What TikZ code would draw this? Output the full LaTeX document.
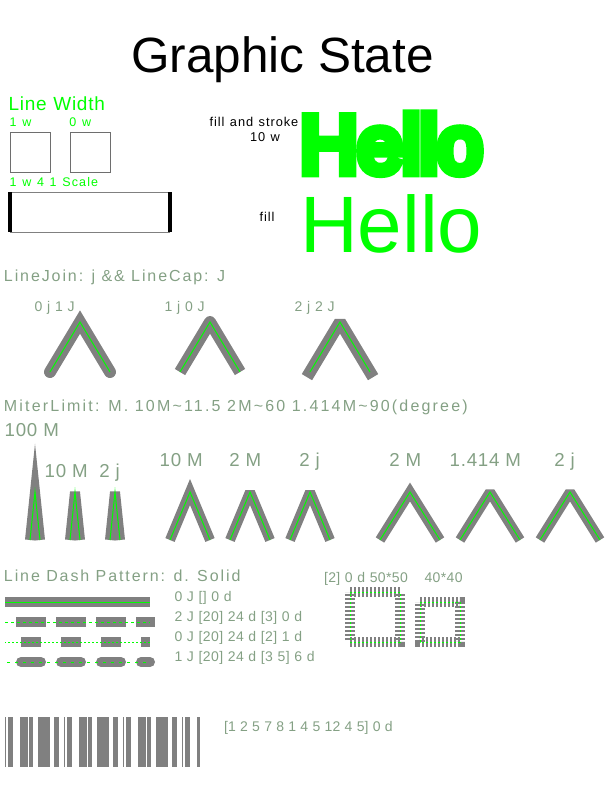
\documentclass[tikz,border=0pt]{standalone}
\usepackage{fontspec}
\setmainfont{Liberation Sans}
\newfontfamily\hellobold[FakeBold=12.5]{Liberation Sans}
\definecolor{lbl}{RGB}{132,160,132}
\definecolor{gr}{RGB}{128,128,128}
\definecolor{sq}{RGB}{110,110,110}
\definecolor{gn}{RGB}{0,255,0}
\newcommand\fs[3]{\fontsize{#1}{#1}\selectfont\addfontfeatures{LetterSpace=#2}\spaceskip=\dimexpr\fontdimen2\font+#3pt\relax}
\tikzset{
  lb/.style={inner sep=0pt, outer sep=0pt, anchor=base west},
  big/.style={lb, text=lbl, font=\fs{16}{11.9}{0}},
  sm/.style={lb, text=lbl, font=\fs{14}{3.4}{0.47}},
  ml/.style={lb, text=lbl, font=\fs{18.7}{4}{0}},
  dl/.style={lb, text=lbl, font=\fs{14}{2.8}{0.39}},
  gl/.style={lb, text=gn, font=\fs{12.5}{9}{1.13}},
  bl/.style={lb, text=black, font=\fs{12.8}{7.5}{0.96}},
  wide/.style={gr, line width=10pt},
  wider/.style={gr, line width=12pt},
  hair/.style={gn, line width=1pt},
}
\begin{document}
\begin{tikzpicture}[x=1pt, y=-1pt]
\useasboundingbox (0,0) rectangle (612,792);
% title
\node[inner sep=0pt, anchor=base, font=\fontsize{49.5}{49.5}\selectfont] (title) at (282.5,72.5) {Graphic State};
% line width
\node[lb, text=gn, font=\fs{19}{3.8}{0.72}] (lw) at (8.6,110.7) {Line Width};
\node[gl] (w1) at (9.6,126.7) {1 w};
\node[gl] (w0) at (69.4,126.7) {0 w};
\draw[sq, line width=1pt] (10,132) rectangle (50,172);
\draw[sq, line width=0.5pt] (70,132) rectangle (110,172);
\node[gl] (w41) at (9.6,186.7) {1 w 4 1 Scale};
\draw[gr, line width=1pt] (10,192) -- (170,192) (10,232) -- (170,232);
\draw[black, line width=4pt] (10,192) -- (10,232) (170,192) -- (170,232);
% hello
\node[bl] (fs) at (209.5,126.7) {fill and stroke};
\node[bl] (tw) at (250,141.7) {10 w};
\node[lb, text=gn, font=\hellobold\fontsize{80}{80}\selectfont] (h1) at (300,172.3) {Hello};
\node[bl] (fl) at (259.5,221.7) {fill};
\node[lb, text=gn, font=\fontsize{80}{80}\selectfont] (h2) at (300,252) {Hello};
% line join / cap
\node[big] (lj) at (4,281.7) {LineJoin: j \&\& LineCap: J};
\node[sm] (lj1) at (34.5,311.7) {0 j 1 J};
\node[sm] (lj2) at (164.5,311.7) {1 j 0 J};
\node[sm] (lj3) at (294.5,311.7) {2 j 2 J};
\draw[wider, line join=miter, line cap=round] (50,372) -- (80,322) -- (110,372);
\draw[hair] (50,372) -- (80,322) -- (110,372);
\draw[wider, line join=round, line cap=butt] (180,372) -- (210,322) -- (240,372);
\draw[hair] (180,372) -- (210,322) -- (240,372);
\draw[wider, line join=bevel, line cap=rect] (310,372) -- (340,322) -- (370,372);
\draw[hair] (310,372) -- (340,322) -- (370,372);
% miter limit
\node[lb, text=lbl, font=\fs{16}{13.6}{0}] (ml) at (4,411.7) {MiterLimit: M. 10M\textasciitilde 11.5 2M\textasciitilde 60 1.414M\textasciitilde 90(degree)};
\node[ml] (m100) at (4.7,436.7) {100 M};
\node[ml] (m10a) at (44.7,477.3) {10 M};
\node[ml] (m2ja) at (99.4,477.3) {2 j};
\node[ml] (m10b) at (159.7,466.7) {10 M};
\node[ml] (m2b) at (229.4,466.7) {2 M};
\node[ml] (m2jb) at (299.4,466.7) {2 j};
\node[ml] (m2c) at (389.4,466.7) {2 M};
\node[ml] (m14c) at (449.7,466.7) {1.414 M};
\node[ml] (m2jc) at (554.4,466.7) {2 j};
\draw[wide, line join=miter, miter limit=100] (30,540) -- (35,492) -- (40,540);
\draw[hair] (30,540) -- (35,492) -- (40,540);
\draw[wide, line join=bevel] (70,540) -- (75,492) -- (80,540);
\draw[hair] (70,540) -- (75,492) -- (80,540);
\draw[wide, line join=bevel] (110,540) -- (115,492) -- (120,540);
\draw[hair] (110,540) -- (115,492) -- (120,540);
\draw[wide, line join=miter, miter limit=10] (170,540) -- (190,492) -- (210,540);
\draw[hair] (170,540) -- (190,492) -- (210,540);
\draw[wide, line join=bevel] (230,540) -- (250,492) -- (270,540);
\draw[hair] (230,540) -- (250,492) -- (270,540);
\draw[wide, line join=bevel] (290,540) -- (310,492) -- (330,540);
\draw[hair] (290,540) -- (310,492) -- (330,540);
\draw[wide, line join=miter, miter limit=2] (380,540) -- (410,492) -- (440,540);
\draw[hair] (380,540) -- (410,492) -- (440,540);
\draw[wide, line join=bevel] (460,540) -- (490,492) -- (520,540);
\draw[hair] (460,540) -- (490,492) -- (520,540);
\draw[wide, line join=bevel] (540,540) -- (570,492) -- (600,540);
\draw[hair] (540,540) -- (570,492) -- (600,540);
% dash pattern
\node[big] (dp) at (4,581.7) {Line Dash Pattern: d. Solid};
\node[dl] (d1) at (174.5,601.7) {0 J [] 0 d};
\node[dl] (d2) at (174.5,621.7) {2 J [20] 24 d [3] 0 d};
\node[dl] (d3) at (174.5,641.7) {0 J [20] 24 d [2] 1 d};
\node[dl] (d4) at (174.5,661.7) {1 J [20] 24 d [3 5] 6 d};
\draw[wide] (5,602) -- (150,602);
\draw[hair] (5,602) -- (150,602);
\draw[wide, line cap=rect, dash pattern=on 20pt off 20pt, dash phase=24pt] (5,622) -- (150,622);
\draw[hair, dash pattern=on 3pt off 3pt] (5,622) -- (150,622);
\draw[wide, dash pattern=on 20pt off 20pt, dash phase=24pt] (5,642) -- (150,642);
\draw[hair, dash pattern=on 2pt off 2pt, dash phase=1pt] (5,642) -- (150,642);
\draw[wide, line cap=round, dash pattern=on 20pt off 20pt, dash phase=24pt] (5,662) -- (150,662);
\draw[hair, dash pattern=on 3pt off 5pt, dash phase=6pt] (5,662) -- (150,662);
\node[lb, text=lbl, font=\fs{14}{2.7}{0.38}] (sq1) at (324,582.7) {[2] 0 d 50*50};
\node[lb, text=lbl, font=\fs{14}{2.7}{0.38}] (sq2) at (424.5,582.7) {40*40};
\draw[wide, dash pattern=on 2pt off 2pt] (350,592) -- (400,592) -- (400,642) -- (350,642) -- cycle;
\draw[hair, dash pattern=on 2pt off 2pt] (350,592) -- (400,592) -- (400,642) -- (350,642) -- cycle;
\draw[wide, dash pattern=on 2pt off 2pt] (420,602) -- (460,602) -- (460,642) -- (420,642) -- cycle;
\draw[hair, dash pattern=on 2pt off 2pt] (420,602) -- (460,602) -- (460,642) -- (420,642) -- cycle;
% barcode
\draw[gr, line width=50pt, dash pattern=on 1pt off 2pt on 5pt off 7pt on 8pt off 1pt on 4pt off 5pt on 12pt off 4pt on 5pt off 5pt] (5,742) -- (200,742);
\node[lb, text=lbl, font=\fs{14}{1.4}{0.2}] (bc) at (224,731.7) {[1 2 5 7 8 1 4 5 12 4 5] 0 d};
\end{tikzpicture}
\end{document}
